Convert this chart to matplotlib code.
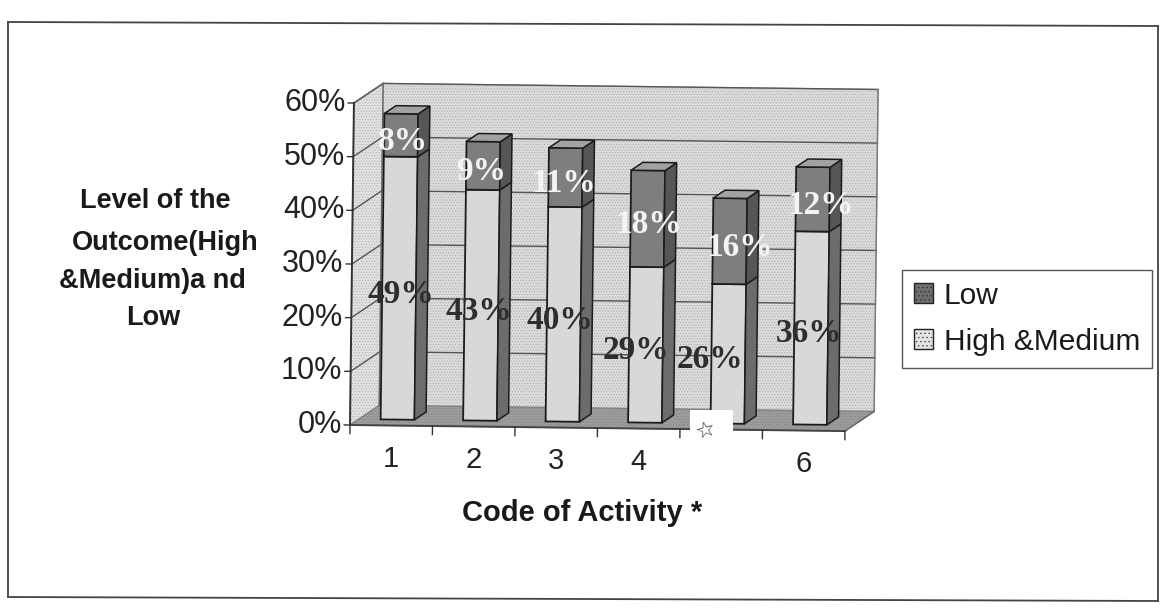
import matplotlib; matplotlib.use("Agg"); import matplotlib.pyplot as plt
from matplotlib.transforms import Affine2D
from matplotlib.patches import Patch, Rectangle
from matplotlib.lines import Line2D

codes=["1","2","3","4","","6"]
high_medium=[49,43,40,29,26,36]
low=[8,9,11,18,16,12]
ytick_vals=[0,10,20,30,40,50,60]
series_names=["Low","High &Medium"]

W,H=1162,612
plt.rcParams["font.family"]=["Liberation Sans","DejaVu Sans"]
plt.rcParams["hatch.linewidth"]=0.35
fig=plt.figure(figsize=(W/100,H/100),dpi=100)
ax=fig.add_axes([350/W,(H-425)/H,495/W,322/H])
ax.set_xlim(0,6); ax.set_ylim(0,60); ax.axis("off")

# scan is a bit crooked, so everything in the plot turns about the origin
tr=ax.transData+Affine2D().rotate_deg_around(350,H-425,-0.7)
DX,DY=0.351,3.72   # depth of the 3d box in axis units
def P(x,v,d=0): return (x+d*DX,v+d*DY)
def poly(pts,fc,ec="#333333",lw=0.9,z=1,hatch=None):
    xs,ys=zip(*pts)
    p=ax.fill(xs,ys,facecolor=fc,edgecolor=ec,linewidth=lw,transform=tr,clip_on=False,zorder=z,hatch=hatch)
    return p
def line(a,b,c="#555555",lw=1.0,z=2):
    ax.plot([a[0],b[0]],[a[1],b[1]],color=c,lw=lw,transform=tr,clip_on=False,zorder=z)

# walls and floor
poly([P(0,0,1),P(6,0,1),P(6,60,1),P(0,60,1)],"#dadada",ec="#a8a8a8",hatch="......")
poly([P(0,0,0),P(0,60,0),P(0,60,1),P(0,0,1)],"#e0e0e0",ec="#a8a8a8",hatch="......")
poly([P(0,0,0),P(6,0,0),P(6,0,1),P(0,0,1)],"#9c9c9c",ec="#808080",hatch="......")
for v in ytick_vals[1:]:
    line(P(0,v,0),P(0,v,1)); line(P(0,v,1),P(6,v,1))
line(P(0,0,1),P(0,60,1),c="#666666"); line(P(6,0,1),P(6,60,1),c="#777777")
line(P(0,60,0),P(0,60,1),c="#666666"); line(P(6,0,0),P(6,0,1),c="#666666")
line(P(0,0),P(0,60),c="#333333",lw=1.4)
line(P(0,0),P(6,0),c="#444444",lw=1.4)

# ticks + tick labels
for v in ytick_vals:
    line(P(0,v),P(-0.07,v),c="#333333")
    ax.text(-0.1,v,f"{v}%",transform=tr,ha="right",va="center",fontsize=22,color="#222222",clip_on=False)
for i in range(7):
    line(P(i,0),P(i,-1.6),c="#333333")
for i,c in enumerate(codes):
    ax.text(i+0.5,-6.2,c,transform=tr,ha="center",va="center",fontsize=21,color="#222222",clip_on=False)

# stacked bars
bw,d0,d1=0.41,0.3,0.7
def seg(x0,v0,v1,front,side,z):
    x1=x0+bw
    poly([P(x0,v0,d0),P(x1,v0,d0),P(x1,v1,d0),P(x0,v1,d0)],front,ec="#1c1c1c",lw=1.3,z=z)
    poly([P(x1,v0,d0),P(x1,v0,d1),P(x1,v1,d1),P(x1,v1,d0)],side,ec="#1c1c1c",lw=1.1,z=z)
nudge_hm=[0.02,-0.03,-0.05,-0.12,-0.22,-0.03]
nudge_lo=[0.02,-0.02,-0.02,0.02,0.12,0.1]
for i,(a,b) in enumerate(zip(high_medium,low)):
    x0=i+0.5-bw/2-0.03
    seg(x0,0,a,"#d8d8d8","#6c6c6c",5+i)
    seg(x0,a,a+b,"#7e7e7e","#565656",5+i)
    t=a+b; x1=x0+bw
    poly([P(x0,t,d0),P(x1,t,d0),P(x1,t,d1),P(x0,t,d1)],"#a2a2a2",ec="#1c1c1c",lw=1.1,z=5+i)
    xc=x0+bw/2+d0*DX
    ax.text(xc+nudge_hm[i],a/2,f"{a}%",transform=tr,ha="center",va="center",fontsize=24,
            family="Liberation Serif",weight="bold",color="#2e2e2e",zorder=20,clip_on=False)
    ax.text(xc+nudge_lo[i],a+b/2,f"{b}%",transform=tr,ha="center",va="center",fontsize=24,
            family="Liberation Serif",weight="bold",color="#f4f4f4",zorder=20,clip_on=False)

# blanked out patch where the 5 was
fig.add_artist(Rectangle((690/W,(H-440)/H),43/W,30/H,transform=fig.transFigure,fc="white",ec="none",zorder=30))
fig.text(706/W,(H-431)/H,"\u2606",fontsize=16,color="#333333",ha="center",va="center",
         rotation=15,family="DejaVu Sans",zorder=31)

# axis titles
for s,x,y in zip(["Level of the","Outcome(High","&Medium)a nd","Low"],[155,165,152,153],[201,243,281,318]):
    fig.text(x/W,(H-y)/H,s,fontsize=19.5,weight="bold",ha="center",va="center",color="#1a1a1a")
fig.text(582/W,(H-513)/H,"Code of Activity *",fontsize=21,weight="bold",ha="center",va="center",color="#1a1a1a")

# legend
handles=[Patch(fc="#6e6e6e",ec="#222222",hatch="...."),Patch(fc="#e4e4e4",ec="#222222",hatch="....")]
fig.legend(handles,series_names,loc="upper left",bbox_to_anchor=(902/W,(H-270)/H),fontsize=21.5,
           frameon=True,fancybox=False,edgecolor="#555555",framealpha=1,handlelength=0.65,handleheight=0.65,
           handletextpad=0.35,labelspacing=0.6,borderpad=0.4,borderaxespad=0,labelcolor="#1a1a1a")

# page frame
for a,b in [((8,22),(1158,26)),((8,22),(8,597)),((8,597),(1158,601)),((1158,26),(1158,601))]:
    fig.add_artist(Line2D([a[0]/W,b[0]/W],[(H-a[1])/H,(H-b[1])/H],color="#444444",lw=1.3))

fig.savefig("out.png",dpi=100)
